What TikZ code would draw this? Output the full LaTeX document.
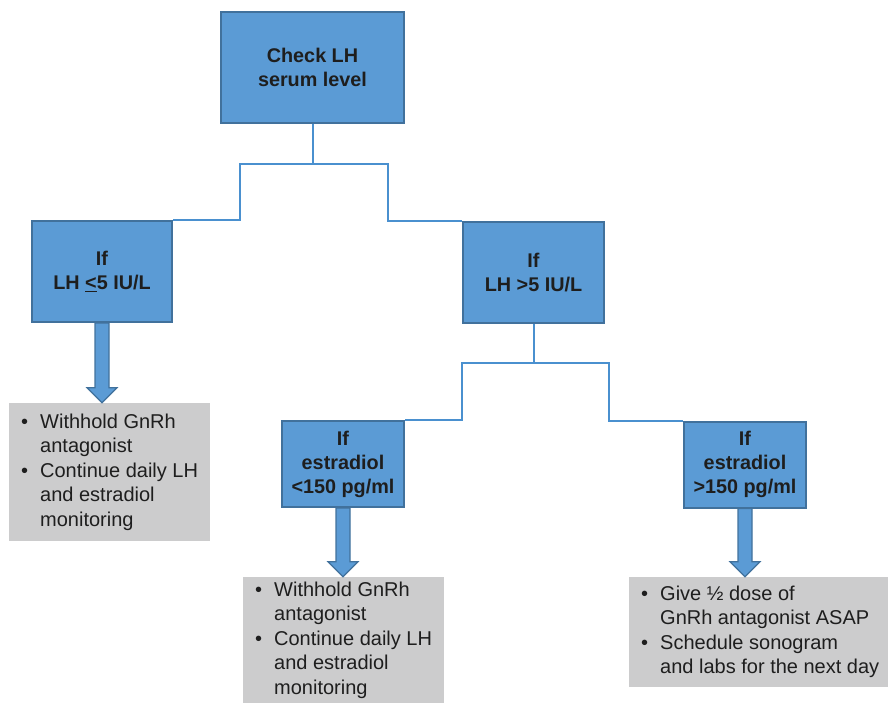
\documentclass[tikz,border=0pt]{standalone}
\usepackage{fontspec}
\setmainfont{Liberation Sans}
\usetikzlibrary{calc}
\definecolor{boxblue}{RGB}{91,155,213}
\definecolor{edgeblue}{RGB}{65,113,156}
\definecolor{linkblue}{RGB}{74,144,207}
\definecolor{notegray}{RGB}{204,204,205}
\definecolor{inkdark}{RGB}{30,30,30}
\newcommand{\bul}{\makebox[19pt][l]{\textbullet}}
\newcommand{\ind}{\makebox[19pt][l]{}}
\newcommand{\blockarrow}[2]{%
  \draw[bigarrow] ($(#1.south)+(-7,0)$) -- ($(#1.south |- #2.north)+(-7,15)$)
    -- ($(#1.south |- #2.north)+(-15,15)$) -- (#1.south |- #2.north)
    -- ($(#1.south |- #2.north)+(15,15)$) -- ($(#1.south |- #2.north)+(7,15)$)
    -- ($(#1.south)+(7,0)$) -- cycle;}

\begin{document}
\begin{tikzpicture}[x=1pt,y=1pt,
    decision/.style={draw=edgeblue,line width=2pt,fill=boxblue,align=center,text=inkdark,
      font=\bfseries\fontsize{19.8}{24}\selectfont,inner sep=0pt},
    note/.style={fill=notegray,align=left,text=inkdark,font=\fontsize{20}{24.5}\selectfont,
      inner xsep=12pt,inner ysep=0pt,anchor=west},
    link/.style={draw=linkblue,line width=2pt},
    bigarrow/.style={draw=edgeblue,line width=1.2pt,fill=boxblue}]
  \useasboundingbox (0,0) rectangle (888,-703);

  \node[decision,minimum width=183,minimum height=111] (check) at (312.5,-67.5) {Check LH\\serum level};
  \node[decision,minimum width=140,minimum height=101] (low) at (102,-271.5) {If\\LH \underline{<}5 IU/L};
  \node[decision,minimum width=141,minimum height=101] (high) at (533.5,-272.5) {If\\LH >5 IU/L};
  \node[decision,minimum width=122,minimum height=86] (elow) at (343,-464) {If\\estradiol\\<150 pg/ml};
  \node[decision,minimum width=122,minimum height=86] (ehigh) at (745,-464.5) {If\\estradiol\\>150 pg/ml};

  \node[note,minimum height=138] (lownote) at (9,-472)
    {\bul Withhold GnRh\\\ind antagonist\\\bul Continue daily LH\\\ind and estradiol\\\ind monitoring};
  \node[note,minimum height=126] (elownote) at (243,-640)
    {\bul Withhold GnRh\\\ind antagonist\\\bul Continue daily LH\\\ind and estradiol\\\ind monitoring};
  \node[note,minimum height=110] (ehighnote) at (629,-632)
    {\bul Give ½ dose of\\\ind GnRh antagonist ASAP\\\bul Schedule sonogram\\\ind and labs for the next day};

  \draw[link] (low.north east) -| (240,-164) -| (check.south);
  \draw[link] (high.north west) -| (388,-164) -| (check.south);
  \draw[link] (elow.north east) -| (462,-363) -| (high.south);
  \draw[link] (ehigh.north west) -| (609,-363) -| (high.south);

  \blockarrow{low}{lownote}
  \blockarrow{elow}{elownote}
  \blockarrow{ehigh}{ehighnote}
\end{tikzpicture}
\end{document}
